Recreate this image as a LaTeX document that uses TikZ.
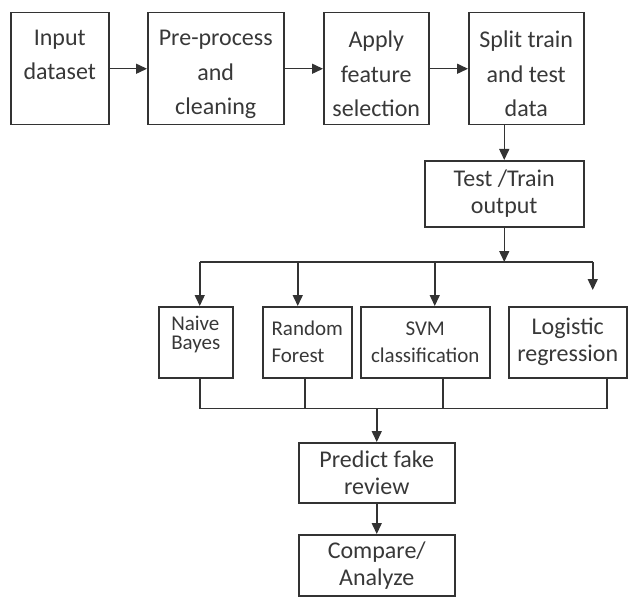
\documentclass[tikz,border=0pt]{standalone}
\usepackage{fontspec}
\setmainfont{Carlito}
\usetikzlibrary{arrows.meta, calc}

\begin{document}
\begin{tikzpicture}[
        x=1pt, y=-1pt,
        stage/.style={rectangle, draw=black!80, line width=1.5pt, text=black!78, anchor=north west, inner sep=0pt, align=center, font=\fontsize{24}{27}\selectfont},
        tall/.style={font=\fontsize{24}{34.5}\selectfont},
        model/.style={font=\fontsize{21}{27}\selectfont},
        link/.style={draw=black!80, line width=1.5pt},
        arrow/.style={link, -{Triangle[length=11pt, width=10pt]}}
    ]
    \useasboundingbox (0,0) rectangle (628,596);

    % top row
    \node[stage, tall, minimum width=98pt, minimum height=112pt] (input) at (10,12) {\rule{0pt}{32pt}Input\\dataset\\\strut};
    \node[stage, tall, minimum width=136pt, minimum height=112pt] (clean) at (147,12) {\rule{0pt}{27pt}Pre-process\\and\\cleaning};
    \node[stage, tall, minimum width=105pt, minimum height=112pt] (select) at (323,12) {\rule{0pt}{27pt}Apply\\feature\\selection};
    \node[stage, tall, minimum width=115pt, minimum height=112pt] (split) at (468,12) {\rule{0pt}{27pt}Split train\\and test\\data};
    \node[stage, minimum width=159pt, minimum height=66pt] (output) at (424,160) {Test /Train\\output};

    % classifiers
    \node[stage, model, align=left, font=\fontsize{21}{19}\selectfont, minimum width=74pt, minimum height=71pt] (nb) at (158,306) {Naive\\Bayes\rule[-19pt]{0pt}{1pt}};
    \node[stage, model, align=left, minimum width=89pt, minimum height=71pt] (rf) at (262,306) {Random\\Forest};
    \node[stage, model, minimum width=129pt, minimum height=71pt] (svm) at (360,306) {SVM\\classification};
    \node[stage, minimum width=118pt, minimum height=71pt] (lr) at (508,306) {Logistic\\regression};

    \node[stage, minimum width=156pt, minimum height=60pt] (predict) at (298,442) {Predict fake\\review};
    \node[stage, minimum width=156pt, minimum height=61pt] (compare) at (298,534) {Compare/\\Analyze};

    \coordinate (forkL) at ([xshift=4pt, yshift=44pt]nb.north);
    \coordinate (forkR) at ([xshift=25pt, yshift=44pt]lr.north);
    \coordinate (joinL) at ([xshift=4pt, yshift=-30pt]nb.south);
    \coordinate (joinR) at ([xshift=39pt, yshift=-30pt]lr.south);
    \coordinate (rfIn) at ([xshift=-9.5pt]rf.north);
    \coordinate (svmIn) at ([xshift=9.5pt]svm.north);
    \coordinate (rfOut) at ([xshift=-2.5pt]rf.south);
    \coordinate (svmOut) at ([xshift=17.5pt]svm.south);

    \draw[arrow] (input) -- (clean);
    \draw[arrow] (clean) -- (select);
    \draw[arrow] (select) -- (split);
    \draw[arrow] (output.north |- split.south) -- (output.north);
    \draw[arrow] (output.south) -- (output.south |- forkL);

    \draw[link] (forkL) -- (forkR);
    \draw[arrow] (forkL) -- (nb.north -| forkL);
    \draw[arrow] (rfIn |- forkL) -- (rfIn);
    \draw[arrow] (svmIn |- forkL) -- (svmIn);
    \draw[arrow, shorten >=16pt] (forkR) -- (lr.north -| forkR);

    \draw[link] (nb.south -| joinL) -- (joinL) -- (joinR) -- (lr.south -| joinR);
    \draw[link] (rfOut) -- (rfOut |- joinL);
    \draw[link] (svmOut) -- (svmOut |- joinL);

    \draw[arrow] (predict.north |- joinL) -- (predict.north);
    \draw[arrow] (predict) -- (compare);
\end{tikzpicture}
\end{document}
